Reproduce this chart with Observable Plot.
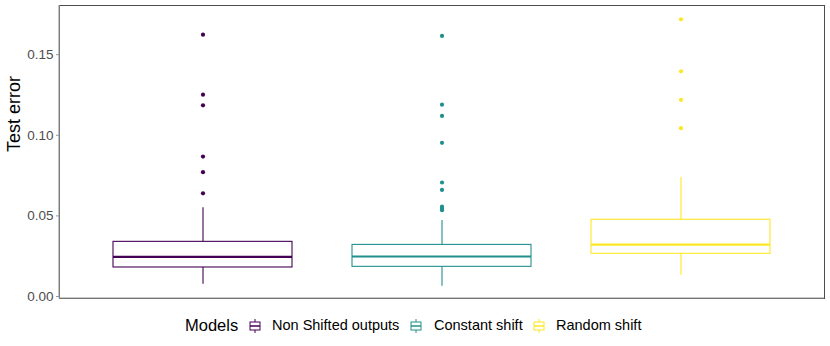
<!DOCTYPE html>
<html>
<head>
<meta charset="utf-8">
<script src="https://cdn.jsdelivr.net/npm/d3@7"></script>
<script src="https://cdn.jsdelivr.net/npm/@observablehq/plot@0.6"></script>
<style>
  body { margin: 0; background: #fff; font-family: "Liberation Sans", Arial, sans-serif; }
  #chart { width: 830px; }
  .legend { position: relative; height: 40px; width: 830px; }
  .legend span { position: absolute; white-space: nowrap; color: #000; }
  .legend svg { position: absolute; }
</style>
</head>
<body>
<div id="chart"></div>
<script>
// ---- data ----
const models   = ["Non Shifted outputs", "Constant shift", "Random shift"];
const colors   = ["#440154", "#21908C", "#FDE725"];
const whiskLo  = [0.0076, 0.0064, 0.0132];
const q1       = [0.0180, 0.0184, 0.0265];
const median   = [0.0246, 0.0248, 0.0322];
const q3       = [0.0339, 0.0320, 0.0476];
const whiskHi  = [0.0550, 0.0471, 0.0738];
const outliersNon    = [0.1624, 0.1252, 0.1186, 0.0868, 0.0771, 0.0640];
const outliersConst  = [0.1616, 0.1190, 0.1120, 0.0953, 0.0707, 0.0661, 0.0557, 0.0545, 0.0535];
const outliersRandom = [0.1719, 0.1397, 0.1220, 0.1044];
const yTicks = [0, 0.05, 0.10, 0.15];

// ---- tables built from the arrays ----
const boxes = models.map((m, i) => ({
  model: m, lo: whiskLo[i], q1: q1[i], med: median[i], q3: q3[i], hi: whiskHi[i]
}));
const outliers = [
  ...outliersNon.map(v => ({model: models[0], v})),
  ...outliersConst.map(v => ({model: models[1], v})),
  ...outliersRandom.map(v => ({model: models[2], v}))
];

const chart = Plot.plot({
  width: 830,
  height: 306,
  marginLeft: 59,
  marginRight: 6,
  marginTop: 5,
  marginBottom: 8,
  style: {fontFamily: "'Liberation Sans', Arial, sans-serif", background: "#fff"},
  x: {type: "band", domain: models, paddingInner: 0.25, paddingOuter: 0.22, axis: null},
  y: {domain: [-0.00124, 0.1805], axis: null},
  color: {domain: models, range: colors},
  marks: [
    Plot.frame({stroke: "#4d4d4d", strokeWidth: 1}),
    Plot.axisY({
      ticks: yTicks, tickFormat: d3.format(".2f"), tickSize: 3, tickPadding: 3,
      fontSize: 13.5, color: "#4d4d4d", stroke: "#9a9a9a", label: null
    }),
    Plot.text(["Test error"], {frameAnchor: "left", rotate: -90, dx: -45, fontSize: 18, fill: "#000"}),
    // whiskers
    Plot.ruleX(boxes, {x: "model", y1: "lo", y2: "q1", stroke: "model", strokeWidth: 1.1}),
    Plot.ruleX(boxes, {x: "model", y1: "q3", y2: "hi", stroke: "model", strokeWidth: 1.1}),
    // boxes
    Plot.barY(boxes, {x: "model", y1: "q1", y2: "q3", fill: "#fff", stroke: "model", strokeWidth: 1.1}),
    // medians
    Plot.tickY(boxes, {x: "model", y: "med", stroke: "model", strokeWidth: 2.2}),
    // outliers
    Plot.dot(outliers, {x: "model", y: "v", fill: "model", r: 2.1, stroke: null})
  ]
});
// gray axis lines on left and bottom
const svg = d3.select(chart);
svg.append("line").attr("x1", 59).attr("x2", 824).attr("y1", 298).attr("y2", 298)
  .attr("stroke", "#9a9a9a").attr("stroke-width", 1.2);
svg.append("line").attr("x1", 59).attr("x2", 59).attr("y1", 5).attr("y2", 298)
  .attr("stroke", "#9a9a9a").attr("stroke-width", 1.2);
document.getElementById("chart").appendChild(chart);

// ---- legend ----
const legend = d3.select("body").append("div").attr("class", "legend");
legend.append("span").text("Models").style("left", "185px").style("top", "10px").style("font-size", "16.5px");
const keyX = [249, 410, 533];
const textX = [272, 434, 556];
models.forEach((m, i) => {
  const s = legend.append("svg").attr("width", 14).attr("height", 16)
    .style("left", (keyX[i] - 1) + "px").style("top", "12px");
  s.append("line").attr("x1", 7).attr("x2", 7).attr("y1", 1).attr("y2", 15).attr("stroke", colors[i]).attr("stroke-width", 1);
  s.append("rect").attr("x", 2).attr("y", 4).attr("width", 10).attr("height", 8)
    .attr("fill", "#fff").attr("stroke", colors[i]).attr("stroke-width", 1);
  s.append("line").attr("x1", 2).attr("x2", 12).attr("y1", 8).attr("y2", 8).attr("stroke", colors[i]).attr("stroke-width", 1.5);
  legend.append("span").text(m).style("left", textX[i] + "px").style("top", "11px").style("font-size", "14.5px");
});
</script>
</body>
</html>
